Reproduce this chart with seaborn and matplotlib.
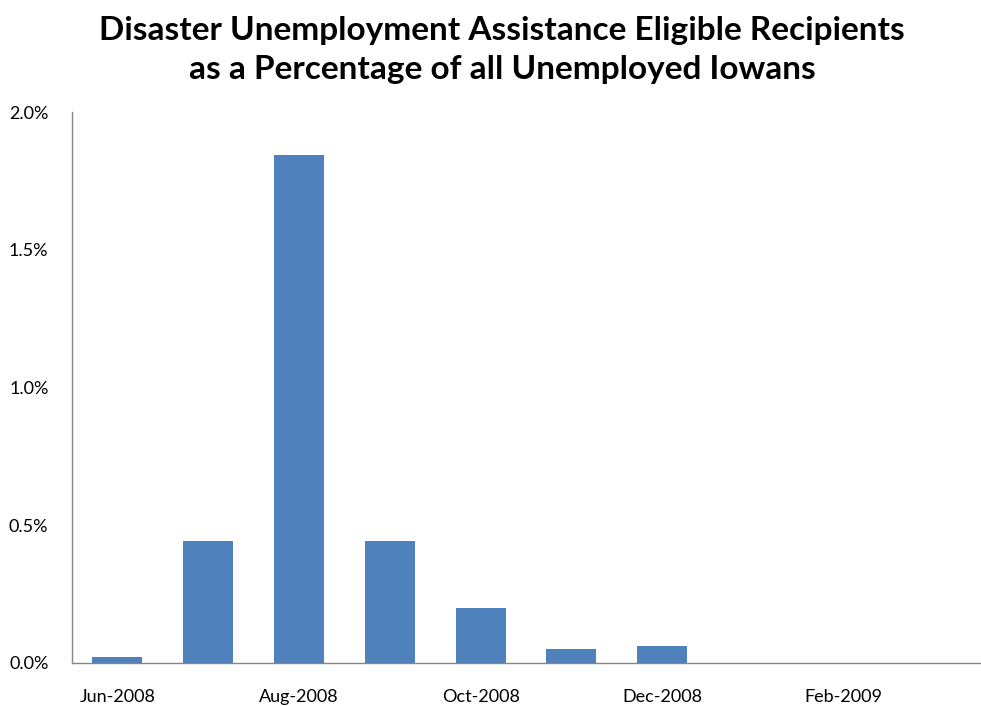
import matplotlib
matplotlib.use("Agg")
import matplotlib.pyplot as plt
import seaborn as sns
import pandas as pd
from matplotlib.ticker import FuncFormatter

months = ["Jun-2008", "Jul-2008", "Aug-2008", "Sep-2008", "Oct-2008",
          "Nov-2008", "Dec-2008", "Jan-2009", "Feb-2009", "Mar-2009"]
pct = [0.023, 0.443, 1.844, 0.443, 0.200, 0.051, 0.062, 0.001, 0.0, 0.001]
shown_labels = ["Jun-2008", "", "Aug-2008", "", "Oct-2008", "", "Dec-2008", "", "Feb-2009", ""]

df = pd.DataFrame({"month": months, "pct": pct})

sns.set_theme(style="white")
plt.rcParams["font.family"] = ["Lato", "DejaVu Sans"]

fig = plt.figure(figsize=(9.81, 7.06), dpi=100)
ax = fig.add_axes([0.0734, 0.061, 0.9256, 0.78])
sns.barplot(data=df, x="month", y="pct", color="#4F81BD", saturation=1,
            width=0.55, ax=ax, linewidth=0)

ax.set_ylim(0, 2.0)
ax.set_yticks([0, 0.5, 1.0, 1.5, 2.0])
ax.yaxis.set_major_formatter(FuncFormatter(lambda v, p: f"{v:.1f}%"))
ax.set_xticks(range(len(months)))
ax.set_xticklabels(shown_labels)
ax.set_xlim(-0.5, len(months) - 0.5)
ax.set_xlabel("")
ax.set_ylabel("")
ax.tick_params(axis="both", length=0, labelsize=13, colors="black")
ax.tick_params(axis="x", pad=19)
ax.tick_params(axis="y", pad=17)

for s in ["top", "right"]:
    ax.spines[s].set_visible(False)
for s in ["left", "bottom"]:
    ax.spines[s].set_color("#868686")
    ax.spines[s].set_linewidth(1.0)

fig.suptitle("Disaster Unemployment Assistance Eligible Recipients\nas a Percentage of all Unemployed Iowans",
             fontsize=24, fontweight="bold", color="black", y=0.978, x=0.512, linespacing=1.42)

fig.savefig("out.png", dpi=100)
